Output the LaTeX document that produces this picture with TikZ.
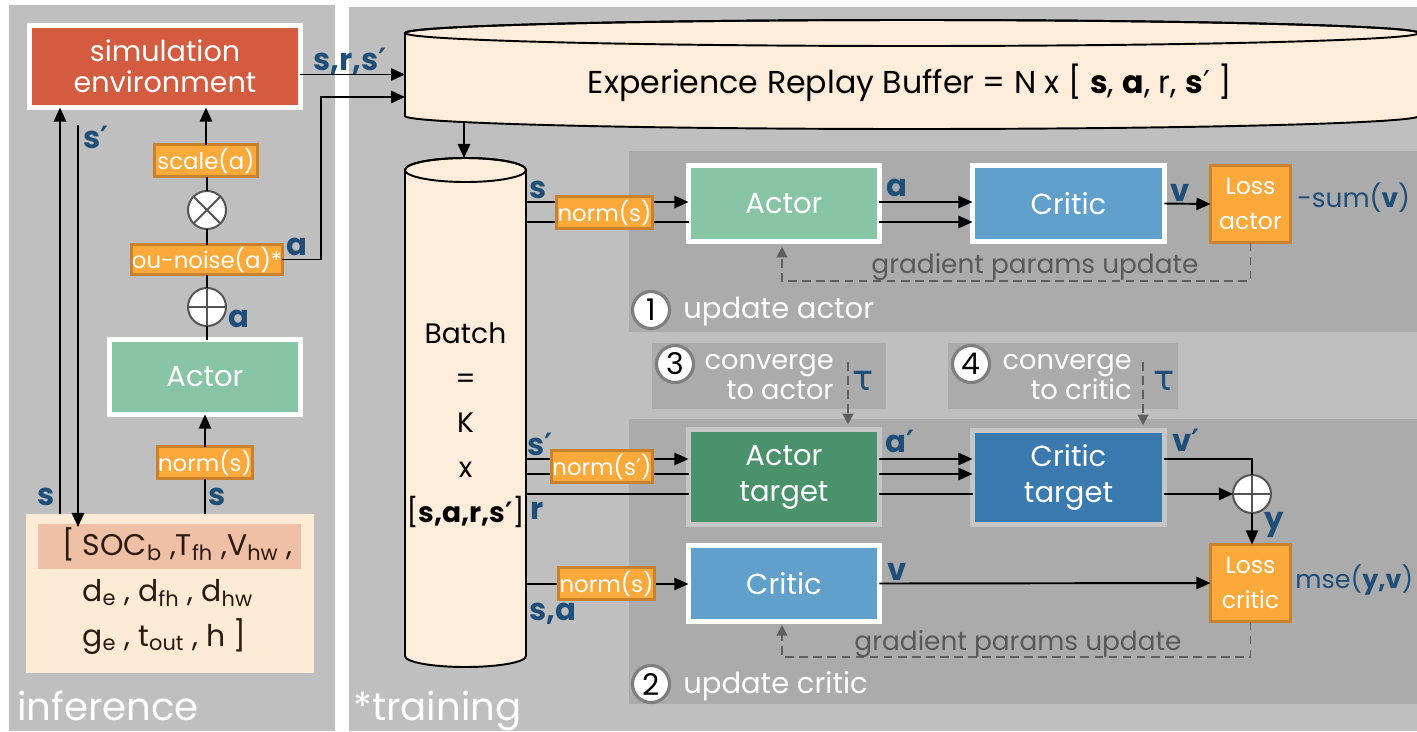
\documentclass[tikz,border=0pt]{standalone}
\usepackage{fontspec}
\setmainfont{Poppins}
\newfontfamily\djv{DejaVu Sans}
\usetikzlibrary{arrows.meta}
\definecolor{pgray}{HTML}{BFBFBF}
\definecolor{dgray}{HTML}{ABABAB}
\definecolor{envred}{HTML}{D35B3F}
\definecolor{actg}{HTML}{88C4A6}
\definecolor{actgt}{HTML}{4A926B}
\definecolor{crb}{HTML}{62A0CC}
\definecolor{crbt}{HTML}{3A7AAE}
\definecolor{org}{HTML}{FBA93B}
\definecolor{orgd}{HTML}{C8822D}
\definecolor{peach}{HTML}{FDEBD6}
\definecolor{bufc}{HTML}{FDEDDA}
\definecolor{salmon}{HTML}{EFBFA6}
\definecolor{lblue}{HTML}{1F4E79}
\definecolor{opgray}{HTML}{555555}
\definecolor{dgline}{HTML}{5F5F5F}
\definecolor{stepgray}{HTML}{7F7F7F}
\definecolor{gtextc}{HTML}{595959}
\definecolor{tgtborder}{HTML}{C6C6C6}
\definecolor{stc}{HTML}{2A1A10}
\newcommand\ftsz[2]{\fontsize{#1}{#2}\selectfont}
\newcommand\prm{{\djv ′}}
\newcommand\prmb{{\djv\bfseries ′}}
\begin{document}
\begin{tikzpicture}[x=0.02cm,y=-0.02cm,
  netbox/.style={draw=white, line width=0.1cm, inner sep=0pt, outer sep=0pt, text=white, align=center, font=\ftsz{16.5}{20.5}},
  tgtbox/.style={netbox, draw=tgtborder},
  orbox/.style={fill=org, draw=orgd, line width=0.06cm, inner sep=0pt, outer sep=0pt, text=white, font=\ftsz{13}{16}},
  lossbox/.style={orbox, align=center, font=\ftsz{13.4}{20}},
  opc/.style={circle, draw=opgray, fill=white, line width=0.04cm, minimum size=0.76cm, inner sep=0pt, outer sep=0pt},
  lbl/.style={text=lblue, font=\ftsz{17.5}{20}\bfseries, inner sep=0pt},
  arr/.style={line width=1.1pt, -{Triangle[length=8pt,width=7pt]}},
  ln/.style={line width=1.1pt},
  dsh/.style={draw=dgline, line width=1.1pt, dash pattern=on 5pt off 3pt},
  dsharr/.style={dsh, -{Triangle[length=6pt,width=6pt]}},
  stepc/.style={circle, fill=white, draw=stepgray, line width=1.8pt, minimum size=0.74cm, inner sep=0pt, font=\ftsz{17}{17}},
  wtxt/.style={text=white, inner sep=0pt},
  cvtxt/.style={wtxt, anchor=base east, font=\ftsz{15.5}{16}},
  gtxt/.style={text=gtextc, inner sep=0pt, font=\ftsz{15}{15}},
  stxt/.style={text=stc, inner sep=0pt, font=\ftsz{17}{20}},
  btxt/.style={text=black, inner sep=0pt, font=\ftsz{16}{20}, anchor=base}]
\fill[white] (0,0) rectangle (1417,731);
\useasboundingbox (0,0) rectangle (1417,731);
% panels
\fill[pgray] (9,5) rectangle (335,731);
\fill[pgray] (349,7) rectangle (1417,731);
\fill[dgray] (629,151) rectangle (1417,332);
\fill[dgray] (629,419) rectangle (1417,704);
\fill[dgray] (652,343) rectangle (886,409);
\fill[dgray] (948,343) rectangle (1178,409);
% buffer cylinder
\filldraw[fill=bufc, line width=1.1pt] (405,33) -- (405,116) arc[start angle=180, end angle=360, x radius=10.14cm, y radius=0.26cm] -- (1419,33) arc[start angle=0, end angle=180, x radius=10.14cm, y radius=0.26cm] -- cycle;
\draw[line width=1.1pt] (912,33) ellipse[x radius=10.14cm, y radius=0.26cm];
\node[minimum width=20.28cm, minimum height=1.66cm, inner sep=0pt, outer sep=0pt] (buf) at (912,74.5) {};
\node[anchor=base, font=\ftsz{18}{20}, inner sep=0pt] (buftxt) at (910,93) {Experience Replay Buffer = N x [ \textbf{s}, \textbf{a}, r, \textbf{s}\prm\ ]};
% batch cylinder
\filldraw[fill=bufc, line width=1.1pt] (405,170) -- (405,656) arc[start angle=180, end angle=360, x radius=1.21cm, y radius=0.22cm] -- (526,170) arc[start angle=0, end angle=180, x radius=1.21cm, y radius=0.24cm] -- cycle;
\draw[line width=1.1pt] (465.5,170) ellipse[x radius=1.21cm, y radius=0.24cm];
\node[minimum width=2.42cm, minimum height=9.72cm, inner sep=0pt, outer sep=0pt] (batch) at (465.5,413) {};
\node[btxt] (bt1) at (465.5,343) {Batch};
\node[btxt] (bt2) at (465.5,388) {=};
\node[btxt] (bt3) at (465.5,432) {K};
\node[btxt] (bt4) at (465.5,477) {x};
\node[btxt] (bt5) at (465.5,522) {[\textbf{s,a,r,s}\prmb]};
% left panel nodes
\node[netbox, fill=envred, minimum width=5.42cm, minimum height=1.64cm, font=\ftsz{16.3}{17.6}] (env) at (165,66.5) {simulation\\environment};
\node[orbox, minimum width=2.06cm, minimum height=0.64cm] (scale) at (206,160.5) {scale(a)};
\node[opc] (mul) at (207,210) {};
\draw[opgray, line width=0.04cm] (mul.45) -- (mul.225) (mul.135) -- (mul.315);
\node[orbox, minimum width=2.98cm, minimum height=0.6cm] (ou) at (207,259.5) {ou-noise(a)*};
\node[opc] (plus) at (207,307) {};
\draw[opgray, line width=0.04cm] (plus.north) -- (plus.south) (plus.east) -- (plus.west);
\node[netbox, fill=actg, minimum width=3.82cm, minimum height=1.5cm] (actorL) at (205,377) {Actor};
\node[orbox, minimum width=1.9cm, minimum height=0.64cm] (normL) at (205,462.5) {norm(s)};
\node[fill=peach, minimum width=5.76cm, minimum height=3.18cm, inner sep=0pt, outer sep=0pt] (state) at (170,593.5) {};
\node[fill=salmon, minimum width=5.26cm, minimum height=0.9cm, inner sep=0pt] (hl) at (169.5,546.5) {};
\node[stxt, anchor=base west] (st1) at (62,555) {[ SOC\textsubscript{b} ,T\textsubscript{fh} ,V\textsubscript{hw} ,};
\node[stxt, anchor=base west] (st2) at (82,601) {d\textsubscript{e} , d\textsubscript{fh} , d\textsubscript{hw}};
\node[stxt, anchor=base west] (st3) at (82,646) {g\textsubscript{e} , t\textsubscript{out} , h ]};
% left connectors
\coordinate (sup) at (60,514);
\draw[arr] (state.north -| sup) -- (env.south -| sup);
\coordinate (sdn) at (78,125);
\coordinate (sdnE) at (78,527);
\draw[arr] (sdn) -- (sdnE);
\draw[ln] (state.north -| normL) -- (normL.south);
\draw[arr] (normL.north) -- (actorL.south -| normL);
\draw[ln] (plus.south |- actorL.north) -- (plus.south);
\draw[ln] (plus.north) -- (ou.south);
\draw[ln] (ou.north) -- (mul.south);
\draw[ln] (mul.north) -- (scale.south -| mul);
\draw[arr] (scale.north) -- (scale.north |- env.south);
\draw[arr] (env.east |- buf.west) -- (buf.west);
\coordinate (bend) at (321,97);
\draw[arr] (ou.east) -| (bend) -- (bend -| buf.west);
\coordinate (bufb) at (464,122);
\coordinate (batchtop) at (464,158);
\draw[arr] (bufb) -- (batchtop);
% training nodes
\node[netbox, fill=actg, minimum width=3.82cm, minimum height=1.52cm] (actor2) at (784,203.5) {Actor};
\node[netbox, fill=crb, minimum width=3.84cm, minimum height=1.52cm] (critic1) at (1068.5,203.5) {Critic};
\node[lossbox, minimum width=1.6cm, minimum height=1.54cm] (lossA) at (1250.5,204) {Loss\\actor};
\node[tgtbox, fill=actgt, minimum width=3.82cm, minimum height=1.9cm] (actorT) at (784,477) {Actor\\target};
\node[tgtbox, fill=crbt, minimum width=3.84cm, minimum height=1.88cm] (criticT) at (1068.5,477.5) {Critic\\target};
\node[netbox, fill=crb, minimum width=3.82cm, minimum height=1.52cm] (critic2) at (784,583.5) {Critic};
\node[lossbox, minimum width=1.6cm, minimum height=1.54cm] (lossC) at (1250.5,583) {Loss\\critic};
\node[opc] (plus2) at (1252,494) {};
\draw[opgray, line width=0.04cm] (plus2.north) -- (plus2.south) (plus2.east) -- (plus2.west);
% training connectors
\coordinate (b1) at (526,202);
\coordinate (b2) at (526,222);
\coordinate (b3) at (526,459);
\coordinate (b4) at (526,474);
\coordinate (b5) at (526,494);
\coordinate (b6) at (526,584);
\draw[arr] (b1) -- (b1 -| actor2.west);
\draw[ln] (b2) -- (b2 -| actor2.west);
\draw[arr] (b1 -| actor2.east) -- (b1 -| critic1.west);
\draw[arr] (b2 -| actor2.east) -- (b2 -| critic1.west);
\draw[arr] (critic1.east) -- (lossA.west);
\draw[arr] (b3) -- (b3 -| actorT.west);
\draw[ln] (b4) -- (b4 -| actorT.west);
\draw[ln] (b5) -- (b5 -| actorT.west);
\draw[arr] (b3 -| actorT.east) -- (b3 -| criticT.west);
\draw[arr] (b4 -| actorT.east) -- (b4 -| criticT.west);
\draw[ln] (b5 -| actorT.east) -- (b5 -| criticT.west);
\draw[ln] (b3 -| criticT.east) -| (plus2.north);
\draw[arr] (b5 -| criticT.east) -- (plus2.west);
\draw[arr] (plus2.south) -- (lossC.north -| plus2);
\draw[arr] (b6) -- (b6 -| critic2.west);
\draw[arr] (critic2.east) -- (lossC.west);
\coordinate (g1) at (782,281);
\draw[dsharr, shorten >=3pt] (lossA.south) |- (g1) -- (g1 |- actor2.south);
\coordinate (g2) at (782,657);
\draw[dsharr, shorten >=2pt] (lossC.south) |- (g2) -- (g2 |- critic2.south);
\coordinate (c3) at (848,362);
\draw[dsharr, shorten >=3pt] (c3) -- (c3 |- actorT.north);
\coordinate (c4) at (1143,362);
\draw[dsharr, shorten >=3pt] (c4) -- (c4 |- criticT.north);
% norm boxes on top of lines
\node[orbox, minimum width=1.92cm, minimum height=0.64cm] (norm1) at (604.5,212.5) {norm(s)};
\node[orbox, minimum width=2.02cm, minimum height=0.64cm] (normT) at (602,466.5) {norm(s\prm)};
\node[orbox, minimum width=1.92cm, minimum height=0.64cm] (norm3) at (606.5,583.5) {norm(s)};
% steps
\node[stepc] (n1) at (651,310) {1};
\node[wtxt, anchor=base west, font=\ftsz{16.5}{18}] (u1) at (683,318) {update actor};
\node[stepc] (n2) at (651,684) {2};
\node[wtxt, anchor=base west, font=\ftsz{16.5}{18}] (u2) at (683,693) {update critic};
\node[stepc] (n3) at (675,364) {3};
\node[cvtxt] (cv3a) at (834,369) {converge};
\node[cvtxt] (cv3b) at (834,399) {to actor};
\node[stepc] (n4) at (971,364) {4};
\node[cvtxt] (cv4a) at (1132,369) {converge};
\node[cvtxt] (cv4b) at (1132,399) {to critic};
\node[text=lblue, inner sep=0pt, font=\ftsz{20}{20}\djv] (tau3) at (863,381) {τ};
\node[text=lblue, inner sep=0pt, font=\ftsz{20}{20}\djv] (tau4) at (1164,381) {τ};
\node[gtxt, anchor=base] (gl1) at (1035,273) {gradient params update};
\node[gtxt, anchor=base] (gl2) at (1018,650) {gradient params update};
\node[wtxt, anchor=base west, font=\ftsz{22}{22}] (inf) at (17,720) {inference};
\node[wtxt, anchor=base west, font=\ftsz{22}{22}] (trn) at (353,720) {*training};
% blue labels
\node[lbl, anchor=base west] (lsrs) at (313,70) {s,r,s\prmb};
\node[lbl] (la1) at (297,247) {a};
\node[lbl] (la2) at (239,319) {a};
\node[lbl] (lsp) at (96,137) {s\prmb};
\node[lbl] (ls1) at (46,497) {s};
\node[lbl] (ls2) at (217,497) {s};
\node[lbl] (ls3) at (538,190) {s};
\node[lbl] (la3) at (897,188) {a};
\node[lbl] (lv1) at (1180,193) {v};
\node[text=lblue, inner sep=0pt, anchor=west, font=\ftsz{15}{15}] (lsum) at (1297,198) {-sum(\textbf{v})};
\node[lbl] (lsp2) at (540,444) {s\prmb};
\node[lbl] (lr) at (537,511) {r};
\node[lbl] (lsa) at (553,614) {s,a};
\node[lbl] (lap) at (900,441) {a\prmb};
\node[lbl] (lvp) at (1186,440) {v\prmb};
\node[lbl] (ly) at (1274,525) {y};
\node[lbl] (lv2) at (897,572) {v};
\node[text=lblue, inner sep=0pt, anchor=west, font=\ftsz{14.5}{15}] (lmse) at (1295,580) {mse(\textbf{y,v})};
\end{tikzpicture}
\end{document}
